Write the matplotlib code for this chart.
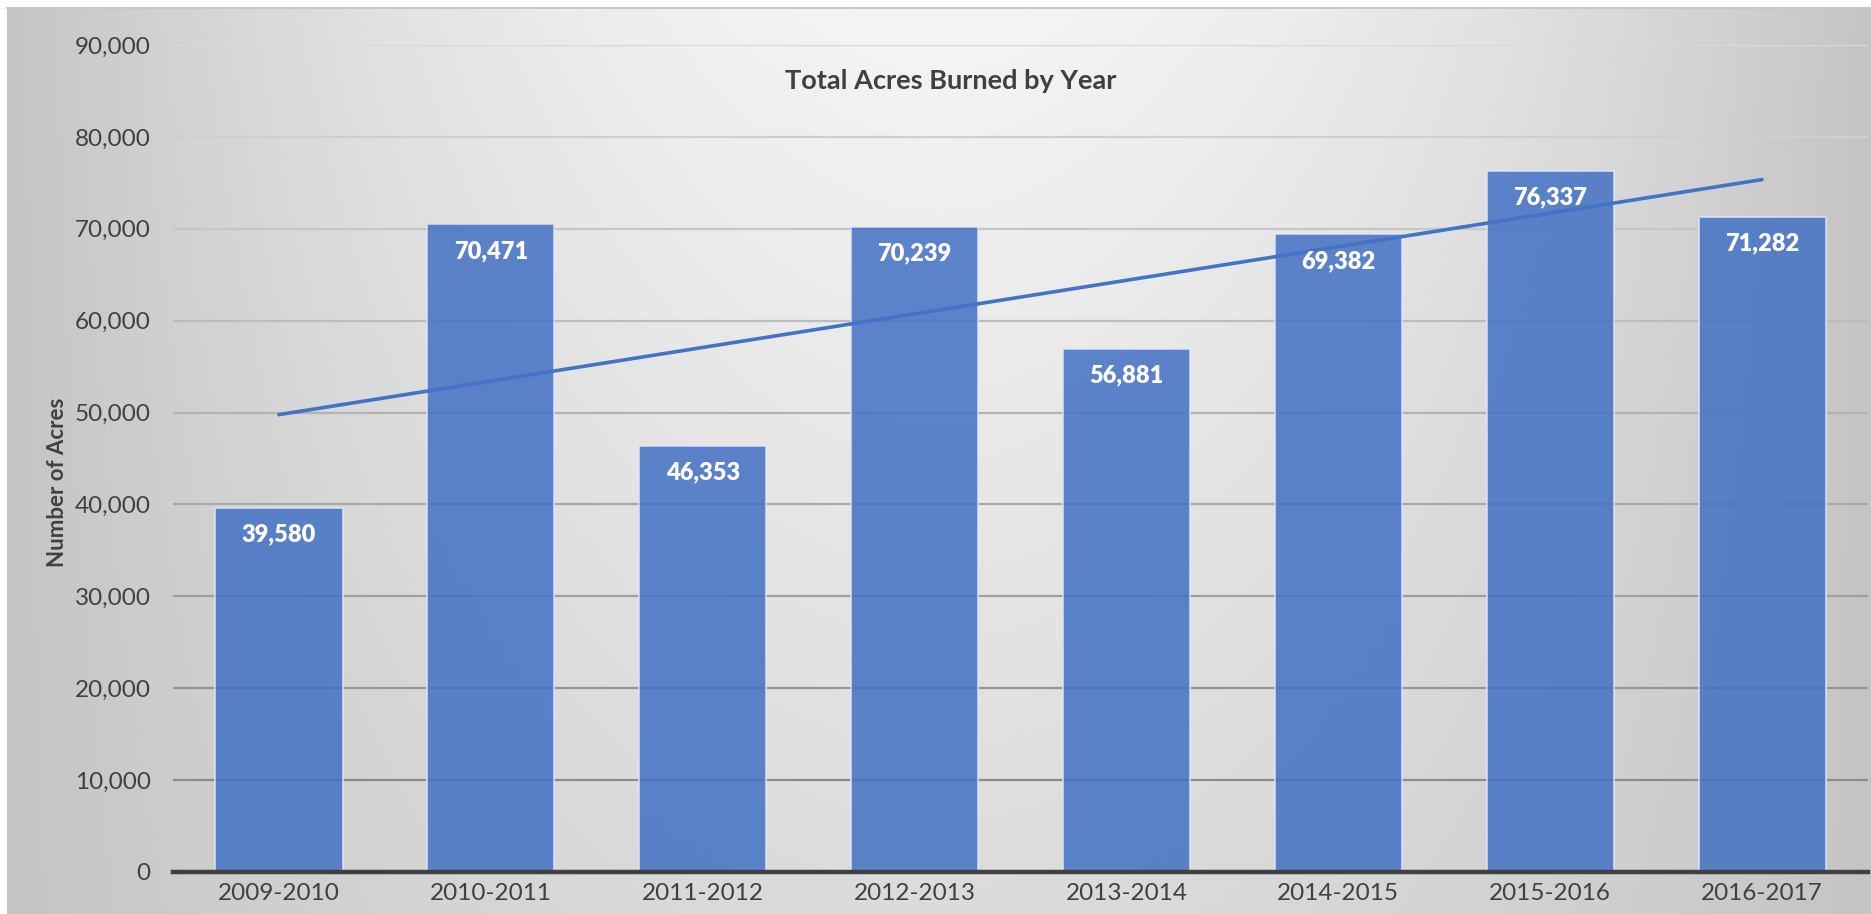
import numpy as np
import matplotlib
matplotlib.use("Agg")
import matplotlib.pyplot as plt
from matplotlib.ticker import FuncFormatter

plt.rcParams['font.family'] = ['Lato', 'DejaVu Sans']

# data
years = ['2009-2010', '2010-2011', '2011-2012', '2012-2013',
         '2013-2014', '2014-2015', '2015-2016', '2016-2017']
acres = [39580, 70471, 46353, 70239, 56881, 69382, 76337, 71282]
y_ticks = [0, 10000, 20000, 30000, 40000, 50000, 60000, 70000, 80000, 90000]

W, H = 1871, 914
fig = plt.figure(figsize=(W / 100, H / 100), dpi=100)
fig.patch.set_facecolor('white')

# gradient background of the chart area
bg = fig.add_axes([7 / W, 0, (W - 7) / W, (H - 7) / H], zorder=0)
gw, gh = W - 7, H - 7
gx = np.linspace(0, gw, gw)
gy = np.linspace(0, gh, gh)
X, Y = np.meshgrid(gx, gy)
dx = np.abs(X - gw / 2) / (gw / 2)
shade = 0.77 + (0.19 - 0.10 * Y / gh) * (1 - dx ** 1.8)
bg.imshow(np.dstack([shade] * 3), aspect='auto', extent=(0, gw, gh, 0))
bg.set_axis_off()
bg.plot([0, gw], [1, 1], color='#c8c8c8', lw=1.5, clip_on=False)

ax = fig.add_axes([173 / W, 42 / H, (1868 - 173) / W, (872 - 45) / H], zorder=1)
ax.patch.set_alpha(0)

x = np.arange(len(years))
ax.set_xlim(-0.5, len(years) - 0.5)
ax.set_ylim(0, 90000)

# gridlines get darker toward the bottom
for v in y_ticks[1:]:
    g = 0.55 + 0.30 * (v - 10000) / 80000
    ax.axhline(v, color=(g, g, g), lw=1.6, zorder=1)

bars = ax.bar(x, acres, width=0.6, color='#4472C4', alpha=0.86,
              edgecolor='#dfe8f6', linewidth=1.2, zorder=2)

# linear trend line
coef = np.polyfit(x, acres, 1)
ax.plot(x, np.polyval(coef, x), color='#4472C4', lw=2.6,
        solid_capstyle='round', zorder=3)

for xi, v in zip(x, acres):
    ax.annotate(f'{v:,}', (xi, v), xytext=(0, -19), textcoords='offset points',
                ha='center', va='center', color='white', fontsize=17,
                fontweight='heavy', zorder=4)

ax.set_xticks(x)
ax.set_xticklabels(years)
ax.set_yticks(y_ticks)
ax.yaxis.set_major_formatter(FuncFormatter(lambda v, p: f'{int(v):,}'))
ax.tick_params(axis='both', length=0, labelsize=17.5, labelcolor='#404040')
ax.tick_params(axis='x', pad=8)
ax.tick_params(axis='y', pad=16)

for s in ['top', 'right', 'left']:
    ax.spines[s].set_visible(False)
ax.spines['bottom'].set_color('#404040')
ax.spines['bottom'].set_linewidth(3.2)
ax.spines['bottom'].set_zorder(5)

fig.text(951 / W, 1 - 81 / H, 'Total Acres Burned by Year', ha='center',
         va='center', fontsize=19.5, fontweight='bold', color='#404040')
fig.text(58 / W, 1 - 482 / H, 'Number of Acres', ha='center', va='center',
         rotation=90, fontsize=16, fontweight='bold', color='#404040')

fig.savefig('out.png', dpi=100)
